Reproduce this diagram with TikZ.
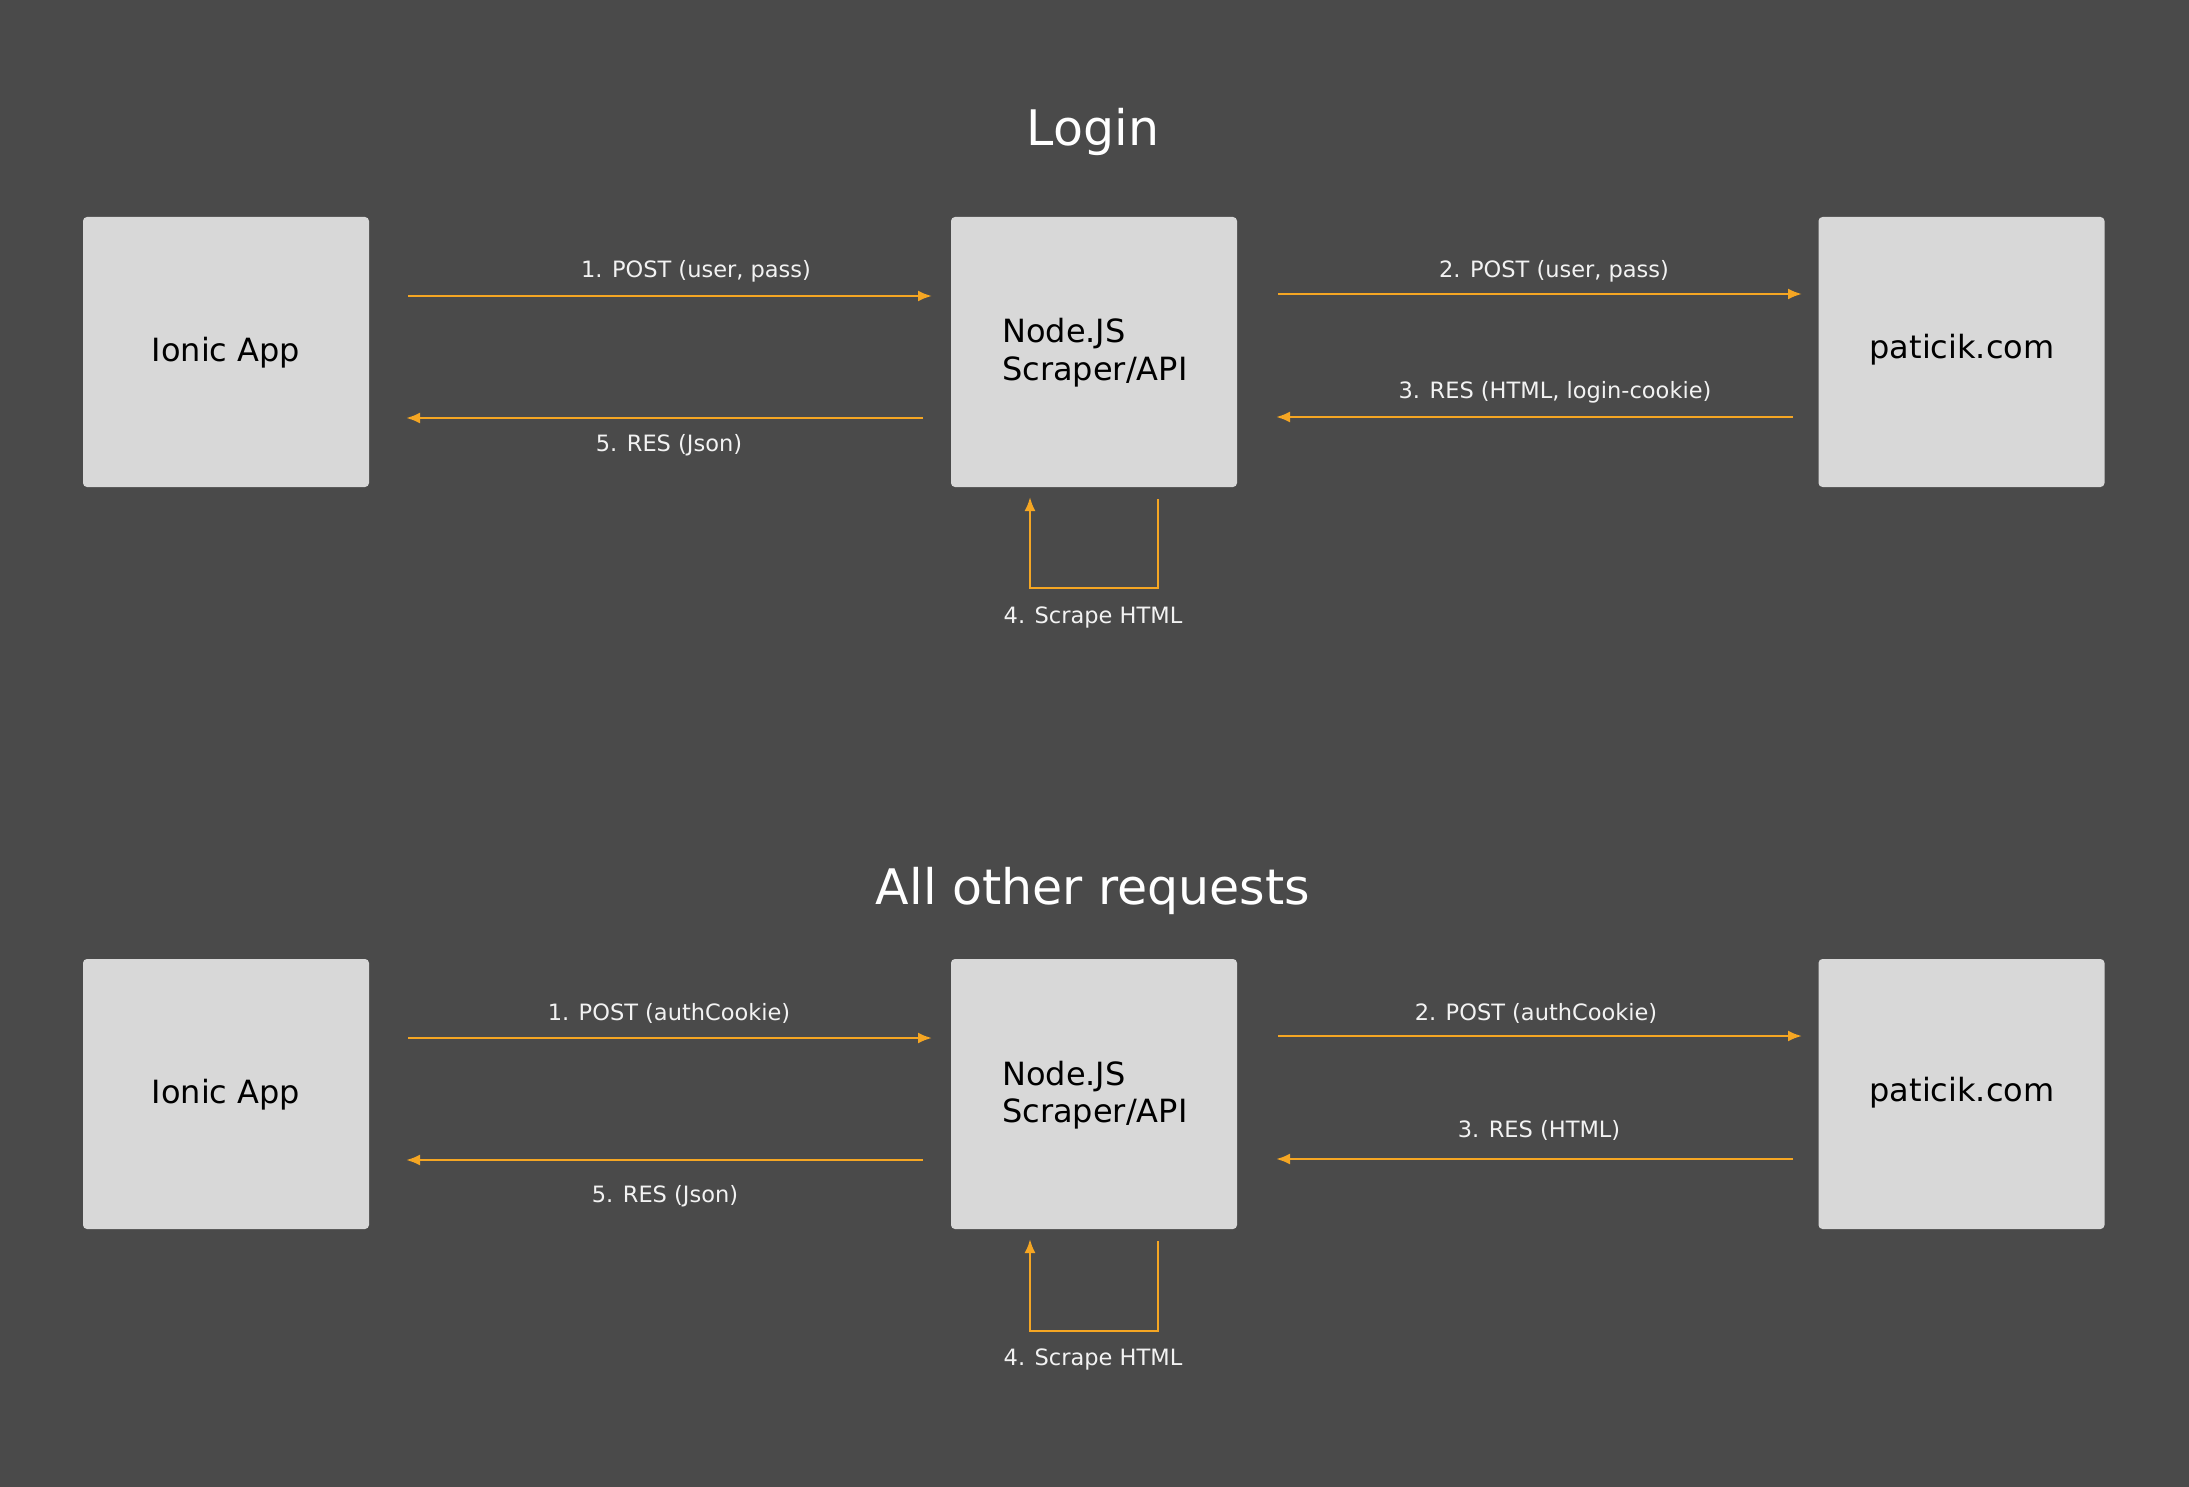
\documentclass[tikz,border=0pt]{standalone}
\usepackage{fontspec}
\setmainfont{DejaVu Sans}
\usetikzlibrary{arrows.meta}
\definecolor{bg}{HTML}{4A4A4A}
\definecolor{boxc}{HTML}{D8D8D8}
\definecolor{flowc}{HTML}{F5A623}
\definecolor{lab}{HTML}{F2F2F2}
\begin{document}
\begin{tikzpicture}[x=1pt,y=-1pt,
 box/.style={fill=boxc, rounded corners=4pt, minimum width=286pt, minimum height=270pt, inner sep=0pt, draw=none},
 flow/.style={draw=flowc, line width=2.4pt, -{Latex[length=14pt,width=11pt]}},
 lbl/.style={anchor=base, text=lab, font=\fontsize{22.5}{27}\selectfont, inner sep=0pt},
 btxt/.style={anchor=base, text=black, font=\fontsize{32}{37}\selectfont, inner sep=0pt},
 ltxt/.style={anchor=base west, text=black, font=\fontsize{32}{37}\selectfont, inner sep=0pt},
 ttl/.style={anchor=base, text=white, font=\fontsize{49}{58}\selectfont, inner sep=0pt}]
\fill[bg] (0,0) rectangle (2189,1487);
\useasboundingbox (0,0) rectangle (2189,1487);

% ---------- Login ----------
\node[ttl] (t1) at (1093,146) {Login};
\node[box] (ion1) at (226,352) {};
\node[box] (nd1) at (1094,352) {};
\node[box] (pat1) at (1961.5,352) {};
\node[btxt] (ion1t) at (226,361) {Ionic App};
\node[ltxt] (nd1ta) at (1002,343) {Node.JS};
\node[ltxt] (nd1tb) at (1002,380) {Scraper/API};
\node[btxt] (pat1t) at (1962,359) {paticik.com};

\coordinate (a1s) at (408,296);  \coordinate (a1e) at (932,296);
\coordinate (a2s) at (1278,294); \coordinate (a2e) at (1802,294);
\coordinate (a3s) at (1793,417); \coordinate (a3e) at (1276,417);
\coordinate (a5s) at (923,418);  \coordinate (a5e) at (406,418);
\draw[flow] (a1s) -- (a1e);
\draw[flow] (a2s) -- (a2e);
\draw[flow] (a3s) -- (a3e);
\draw[flow] (a5s) -- (a5e);
\node[lbl] (l1) at (696,278) {1. POST (user, pass)};
\node[lbl] (l2) at (1554,278) {2. POST (user, pass)};
\node[lbl] (l3) at (1555,398) {3. RES (HTML, login-cookie)};
\node[lbl] (l5) at (669,451) {5. RES (Json)};

\coordinate (s1a) at (1158,499); \coordinate (s1b) at (1158,588);
\coordinate (s1c) at (1030,588); \coordinate (s1d) at (1030,497);
\draw[flow] (s1a) -- (s1b) -- (s1c) -- (s1d);
\node[lbl] (l4) at (1093,623) {4. Scrape HTML};

% ---------- All other requests ----------
\node[ttl] (t2) at (1093,904) {All other requests};
\node[box] (ion2) at (226,1094) {};
\node[box] (nd2) at (1094,1094) {};
\node[box] (pat2) at (1961.5,1094) {};
\node[btxt] (ion2t) at (226,1103) {Ionic App};
\node[ltxt] (nd2ta) at (1002,1085) {Node.JS};
\node[ltxt] (nd2tb) at (1002,1122) {Scraper/API};
\node[btxt] (pat2t) at (1962,1101) {paticik.com};

\coordinate (b1s) at (408,1038);  \coordinate (b1e) at (932,1038);
\coordinate (b2s) at (1278,1036); \coordinate (b2e) at (1802,1036);
\coordinate (b3s) at (1793,1159); \coordinate (b3e) at (1276,1159);
\coordinate (b5s) at (923,1160);  \coordinate (b5e) at (406,1160);
\draw[flow] (b1s) -- (b1e);
\draw[flow] (b2s) -- (b2e);
\draw[flow] (b3s) -- (b3e);
\draw[flow] (b5s) -- (b5e);
\node[lbl] (m1) at (669,1020) {1. POST (authCookie)};
\node[lbl] (m2) at (1536,1020) {2. POST (authCookie)};
\node[lbl] (m3) at (1539,1137) {3. RES (HTML)};
\node[lbl] (m5) at (665,1202) {5. RES (Json)};

\coordinate (s2a) at (1158,1241); \coordinate (s2b) at (1158,1331);
\coordinate (s2c) at (1030,1331); \coordinate (s2d) at (1030,1239);
\draw[flow] (s2a) -- (s2b) -- (s2c) -- (s2d);
\node[lbl] (m4) at (1093,1365) {4. Scrape HTML};
\end{tikzpicture}
\end{document}
